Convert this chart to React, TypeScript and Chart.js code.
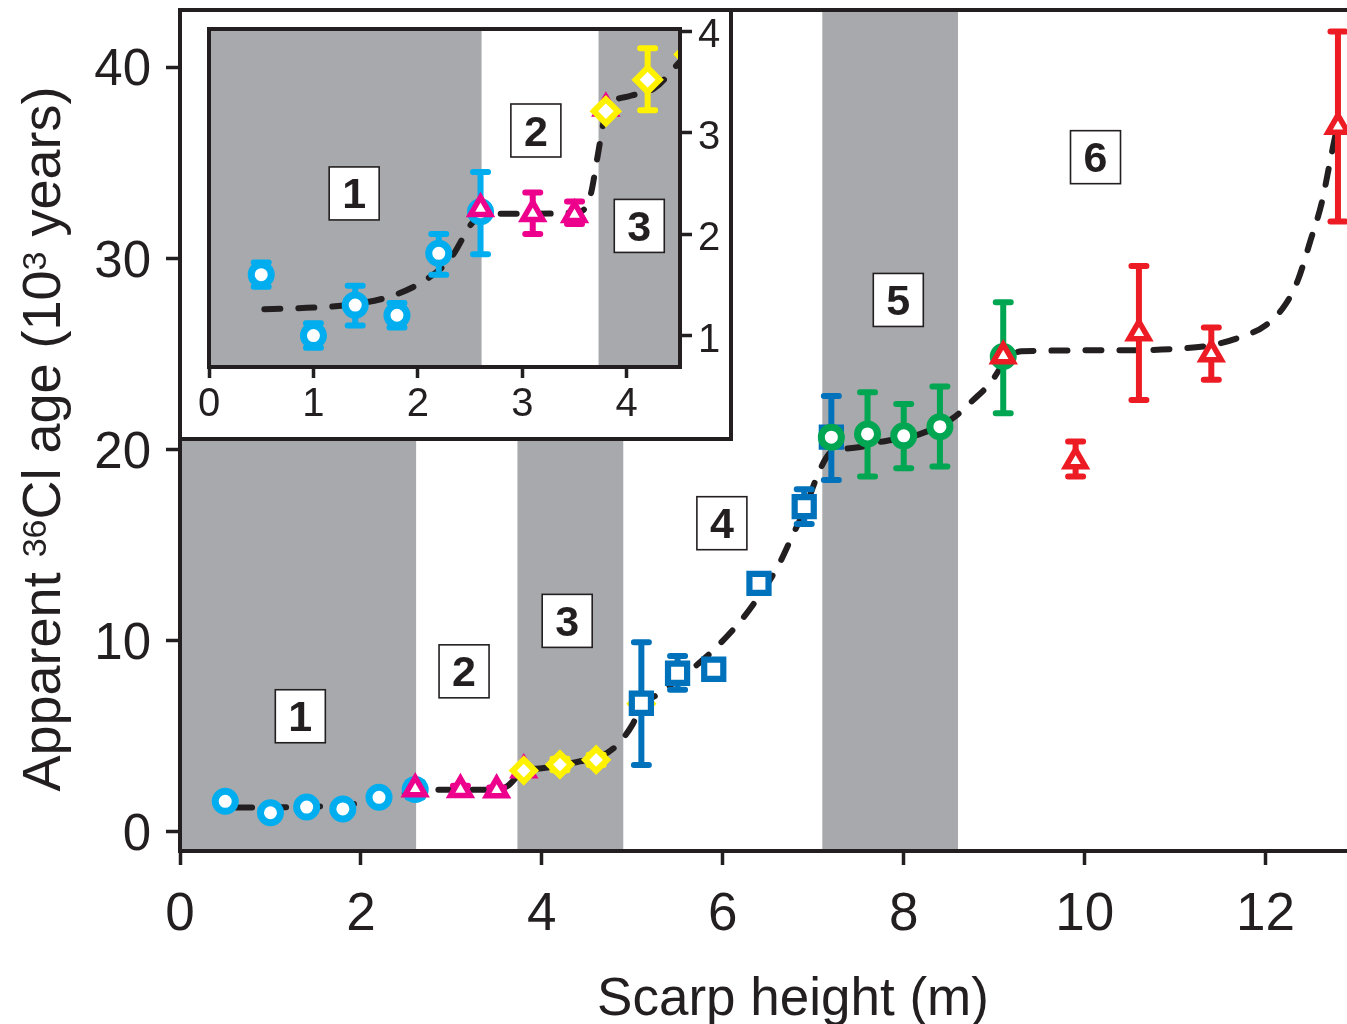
import React, { useEffect, useRef } from "react";
import { Chart, registerables } from "chart.js";

Chart.register(...registerables);

const FONT = '"Liberation Sans", Arial, Helvetica, sans-serif';
const INK = "#231F20";
const BAND = "#A7A9AC";

// ---- axis ticks ----
const mainXTicks = [0, 2, 4, 6, 8, 10, 12];
const mainYTicks = [0, 10, 20, 30, 40];
const insetXTicks = [0, 1, 2, 3, 4];
const insetYTicks = [1, 2, 3, 4];

// ---- axis titles ----
const xTitle = "Scarp height (m)";
const yTitleParts = ["Apparent ", "36", "Cl age (10", "3", " years)"];
const yTitleSup = [false, true, false, true, false];

// ---- shaded zones (scarp height, m) ----
const zoneStart = [0, 3.73, 7.1];
const zoneEnd = [2.61, 4.9, 8.6];

// ---- zone labels ----
const mainZoneLabels = ["1", "2", "3", "4", "5", "6"];
const mainZoneLabelX = [1.33, 3.14, 4.28, 5.99, 7.94, 10.12];
const mainZoneLabelY = [6.05, 8.4, 11.04, 16.15, 27.83, 35.3];
const insetZoneLabels = ["1", "2", "3"];
const insetZoneLabelX = [1.39, 3.13, 4.12];
const insetZoneLabelY = [2.4, 3.02, 2.08];

// ---- samples ----
const cyanX = [0.5, 1.0, 1.4, 1.8, 2.2, 2.6];
const cyanY = [1.6, 1.0, 1.3, 1.2, 1.81, 2.22];
const cyanLo = [1.48, 0.88, 1.1, 1.08, 1.6, 1.8];
const cyanHi = [1.72, 1.12, 1.49, 1.32, 2.0, 2.61];

const magentaX = [2.6, 3.1, 3.5, 3.8];
const magentaY = [2.25, 2.2, 2.19, 3.24];
const magentaLo = [null, 2.0, 2.1, null];
const magentaHi = [null, 2.41, 2.32, null];

const yellowX = [3.8, 4.2, 4.6, 5.1];
const yellowY = [3.21, 3.52, 3.77, 6.7];
const yellowLo = [null, 3.22, 3.5, null];
const yellowHi = [null, 3.83, 4.04, null];

const blueX = [5.1, 5.5, 5.9, 6.4, 6.9, 7.2];
const blueY = [6.73, 8.3, 8.51, 13.0, 17.02, 20.65];
const blueLo = [3.5, 7.43, null, null, 16.11, 18.41];
const blueHi = [9.92, 9.2, null, null, 17.93, 22.81];

const greenX = [7.2, 7.6, 8.0, 8.4, 9.1];
const greenY = [20.65, 20.82, 20.72, 21.2, 24.87];
const greenLo = [null, 18.59, 19.03, 19.11, 21.9];
const greenHi = [null, 23.0, 22.39, 23.3, 27.71];

const redX = [9.1, 9.9, 10.6, 11.4, 12.8];
const redY = [24.9, 19.4, 26.1, 25.0, 36.9];
const redLo = [null, 18.59, 22.6, 23.65, 31.93];
const redHi = [null, 20.42, 29.61, 26.39, 41.87];

// ---- dashed trend curves ----
const mainCurveX = [0.62, 1.0, 1.4, 1.8, 2.1, 2.35, 2.55, 2.7, 3.2, 3.5, 3.62, 3.8, 4.0, 4.4, 4.6, 4.8, 5.0, 5.1, 5.27, 5.5, 5.78, 6.06, 6.29, 6.61, 6.78, 6.9, 7.06, 7.18, 7.3, 7.55, 7.69, 8.17, 8.53, 8.77, 8.96, 9.12, 9.3, 10.5, 11.1, 11.44, 11.73, 12.0, 12.22, 12.36, 12.5, 12.62, 12.71, 12.77, 12.8];
const mainCurveY = [1.27, 1.28, 1.31, 1.4, 1.57, 1.8, 2.1, 2.2, 2.2, 2.22, 2.4, 3.2, 3.33, 3.67, 3.85, 4.4, 5.6, 6.6, 7.16, 7.95, 9.0, 10.3, 11.6, 13.9, 15.6, 16.8, 18.8, 19.8, 20.0, 20.16, 20.35, 20.8, 21.6, 22.6, 23.5, 24.6, 25.15, 25.2, 25.3, 25.5, 25.9, 26.5, 27.6, 28.9, 31.0, 32.9, 35.0, 36.4, 37.0];
const insetCurveX = [0.53, 1.09, 1.4, 1.78, 2.12, 2.32, 2.53, 2.7, 3.1, 3.55, 3.65, 3.72, 3.77, 3.81, 4.03, 4.27, 4.51];
const insetCurveY = [1.26, 1.28, 1.31, 1.4, 1.58, 1.77, 2.12, 2.2, 2.2, 2.22, 2.37, 2.76, 3.06, 3.23, 3.36, 3.44, 3.7];

const xy = (xs: number[], ys: number[]) => xs.map((x, i) => ({ x, y: ys[i] }));

function markerSet(xs: number[], ys: number[], lo: any[], hi: any[], color: string, style: string, radius: number, bw: number, order: number, clip: any) {
  return {
    data: xy(xs, ys),
    errLo: lo,
    errHi: hi,
    showLine: false,
    pointStyle: style,
    pointRadius: radius,
    pointHoverRadius: radius,
    pointBorderWidth: bw,
    pointHoverBorderWidth: bw,
    pointBackgroundColor: "#ffffff",
    pointBorderColor: color,
    borderColor: color,
    backgroundColor: "#ffffff",
    order,
    clip,
  };
}

function curveSet(xs: number[], ys: number[]) {
  return {
    data: xy(xs, ys),
    showLine: true,
    borderColor: INK,
    borderWidth: 6,
    borderDash: [16, 18],
    borderCapStyle: "round",
    pointRadius: 0,
    pointHoverRadius: 0,
    cubicInterpolationMode: "monotone",
    fill: false,
    order: 20,
  };
}

const bandsPlugin = {
  id: "bands",
  beforeDraw(chart: any) {
    const { ctx, chartArea: a, scales } = chart;
    const x = scales.x;
    ctx.save();
    ctx.fillStyle = "#ffffff";
    ctx.fillRect(0, 0, chart.width, chart.height);
    ctx.fillStyle = BAND;
    zoneStart.forEach((s, i) => {
      const x1 = Math.max(a.left, x.getPixelForValue(s));
      const x2 = Math.min(a.right, x.getPixelForValue(zoneEnd[i]));
      if (x2 > x1) ctx.fillRect(x1, a.top, x2 - x1, a.bottom - a.top);
    });
    ctx.restore();
  },
};

const errorBarPlugin = {
  id: "errbars",
  beforeDatasetDraw(chart: any, args: any) {
    const ds: any = chart.data.datasets[args.index];
    if (!ds.errLo) return;
    const { ctx } = chart;
    const x = chart.scales.x;
    const y = chart.scales.y;
    ctx.save();
    ctx.strokeStyle = ds.borderColor;
    ctx.lineWidth = 6;
    ctx.lineCap = "round";
    ds.data.forEach((p: any, i: number) => {
      const lo = ds.errLo[i];
      const hi = ds.errHi[i];
      if (lo == null || hi == null) return;
      if (p.x < x.min || p.x > x.max) return;
      const px = x.getPixelForValue(p.x);
      const p1 = y.getPixelForValue(hi);
      const p2 = y.getPixelForValue(lo);
      ctx.beginPath();
      ctx.moveTo(px, p1);
      ctx.lineTo(px, p2);
      ctx.moveTo(px - 7.5, p1);
      ctx.lineTo(px + 7.5, p1);
      ctx.moveTo(px - 7.5, p2);
      ctx.lineTo(px + 7.5, p2);
      ctx.stroke();
    });
    ctx.restore();
  },
};

function drawBoxes(chart: any, labels: string[], xs: number[], ys: number[]) {
  const { ctx } = chart;
  const x = chart.scales.x;
  const y = chart.scales.y;
  ctx.save();
  labels.forEach((t, i) => {
    const px = x.getPixelForValue(xs[i]);
    const py = y.getPixelForValue(ys[i]);
    const w = 50;
    const h = 53;
    ctx.fillStyle = "#ffffff";
    ctx.fillRect(px - w / 2, py - h / 2, w, h);
    ctx.strokeStyle = INK;
    ctx.lineWidth = 1.6;
    ctx.strokeRect(px - w / 2, py - h / 2, w, h);
    ctx.fillStyle = INK;
    ctx.font = `bold 43px ${FONT}`;
    ctx.textAlign = "center";
    ctx.textBaseline = "alphabetic";
    ctx.fillText(t, px, py + 15);
  });
  ctx.restore();
}

function baseScale(ticks: number[], min: number, max: number, size: number, tickLen: number, pad: number, fitKey: "width" | "height", fitVal: number, position: string, labelOffset = 0) {
  return {
    type: "linear",
    position,
    min,
    max,
    afterBuildTicks: (s: any) => {
      s.ticks = ticks.map((v) => ({ value: v }));
    },
    afterFit: (s: any) => {
      s[fitKey] = fitVal;
      s.paddingTop = 0;
      s.paddingBottom = 0;
      s.paddingLeft = 0;
      s.paddingRight = 0;
    },
    grid: {
      display: true,
      drawOnChartArea: false,
      drawTicks: true,
      tickLength: tickLen,
      tickWidth: 3.5,
      tickColor: INK,
      color: INK,
    },
    border: { display: true, color: INK, width: 4 },
    ticks: {
      autoSkip: false,
      maxRotation: 0,
      minRotation: 0,
      padding: pad,
      labelOffset,
      color: INK,
      font: { family: FONT, size },
    },
  };
}

function mainConfig(): any {
  return {
    type: "scatter",
    data: {
      datasets: [
        curveSet(mainCurveX, mainCurveY),
        markerSet(cyanX, cyanY, cyanLo, cyanHi, "#00AEEF", "circle", 10, 7, 6, false),
        markerSet(magentaX, magentaY, magentaLo, magentaHi, "#EC008C", "triangle", 11.5, 5.5, 5, false),
        markerSet(yellowX, yellowY, yellowLo, yellowHi, "#FFF200", "rectRot", 11, 6, 4, false),
        markerSet(blueX, blueY, blueLo, blueHi, "#0072BC", "rect", 13.5, 6.2, 3, false),
        markerSet(greenX, greenY, greenLo, greenHi, "#00A651", "circle", 10, 7, 2, false),
        markerSet(redX, redY, redLo, redHi, "#ED1C24", "triangle", 11.5, 5.5, 1, false),
      ],
    },
    options: {
      animation: false,
      responsive: false,
      events: [],
      layout: { autoPadding: false, padding: { top: 10, left: 0, right: 0, bottom: 0 } },
      plugins: {
        legend: { display: false },
        tooltip: { enabled: false },
      },
      scales: {
        x: baseScale(mainXTicks, 0, 12.9, 53, 14, 19, "height", 173, "bottom"),
        y: baseScale(mainYTicks, -1, 43, 51, 14, 15, "width", 180, "left", 4),
      },
    },
    plugins: [
      bandsPlugin,
      errorBarPlugin,
      {
        id: "mainExtras",
        afterDatasetsDraw(chart: any) {
          drawBoxes(chart, mainZoneLabels, mainZoneLabelX, mainZoneLabelY);
        },
        afterDraw(chart: any) {
          const { ctx, chartArea: a } = chart;
          ctx.save();
          // top frame line
          ctx.strokeStyle = INK;
          ctx.lineWidth = 4;
          ctx.beginPath();
          ctx.moveTo(a.left - 2, a.top);
          ctx.lineTo(chart.width, a.top);
          ctx.stroke();
          // x title
          ctx.fillStyle = INK;
          ctx.font = `53px ${FONT}`;
          ctx.textAlign = "center";
          ctx.textBaseline = "alphabetic";
          ctx.fillText(xTitle, 793, 1015);
          // y title with superscripts
          const size = 54;
          const sub = 34;
          let total = 0;
          yTitleParts.forEach((t, i) => {
            ctx.font = `${yTitleSup[i] ? sub : size}px ${FONT}`;
            total += ctx.measureText(t).width;
          });
          ctx.translate(60, 439);
          ctx.rotate(-Math.PI / 2);
          ctx.textAlign = "left";
          let xx = -total / 2;
          yTitleParts.forEach((t, i) => {
            const sup = yTitleSup[i];
            ctx.font = `${sup ? sub : size}px ${FONT}`;
            const dy = sup ? -(size - sub) * 0.716 : 0;
            ctx.fillText(t, xx, dy);
            xx += ctx.measureText(t).width;
          });
          ctx.restore();
        },
      },
    ],
  };
}

function insetConfig(): any {
  return {
    type: "scatter",
    data: {
      datasets: [
        curveSet(insetCurveX, insetCurveY),
        markerSet(cyanX, cyanY, cyanLo, cyanHi, "#00AEEF", "circle", 10, 7, 6, 20),
        markerSet(magentaX, magentaY, magentaLo, magentaHi, "#EC008C", "triangle", 11.5, 5.5, 5, 20),
        markerSet(yellowX, yellowY, yellowLo, yellowHi, "#FFF200", "rectRot", 12, 6, 4, { left: 20, right: 0, top: 20, bottom: 20 }),
      ],
    },
    options: {
      animation: false,
      responsive: false,
      events: [],
      layout: { autoPadding: false, padding: { top: 21, left: 31, right: 0, bottom: 0 } },
      plugins: {
        legend: { display: false },
        tooltip: { enabled: false },
      },
      scales: {
        x: baseScale(insetXTicks, 0, 4.51, 40, 11, 3, "height", 74, "bottom"),
        y: baseScale(insetYTicks, 0.69, 4.02, 40, 12, 6, "width", 53, "right", 5),
      },
    },
    plugins: [
      bandsPlugin,
      errorBarPlugin,
      {
        id: "insetExtras",
        afterDatasetsDraw(chart: any) {
          drawBoxes(chart, insetZoneLabels, insetZoneLabelX, insetZoneLabelY);
        },
        afterDraw(chart: any) {
          const { ctx, chartArea: a } = chart;
          ctx.save();
          ctx.strokeStyle = INK;
          ctx.lineWidth = 4;
          ctx.strokeRect(a.left, a.top, a.right - a.left, a.bottom - a.top);
          ctx.strokeRect(2, 2, chart.width - 4, chart.height - 4);
          ctx.restore();
        },
      },
    ],
  };
}

export default function App() {
  const mainRef = useRef<HTMLCanvasElement>(null);
  const insetRef = useRef<HTMLCanvasElement>(null);
  useEffect(() => {
    const main = new Chart(mainRef.current as HTMLCanvasElement, mainConfig());
    const inset = new Chart(insetRef.current as HTMLCanvasElement, insetConfig());
    return () => {
      main.destroy();
      inset.destroy();
    };
  }, []);
  return (
    <div style={{ position: "absolute", left: 0, top: 0, width: 1347, height: 1024, background: "#ffffff", overflow: "hidden" }}>
      <canvas ref={mainRef} width={1347} height={1024} style={{ position: "absolute", left: 0, top: 0 }} />
      <canvas ref={insetRef} width={555} height={433} style={{ position: "absolute", left: 178, top: 8 }} />
    </div>
  );
}
